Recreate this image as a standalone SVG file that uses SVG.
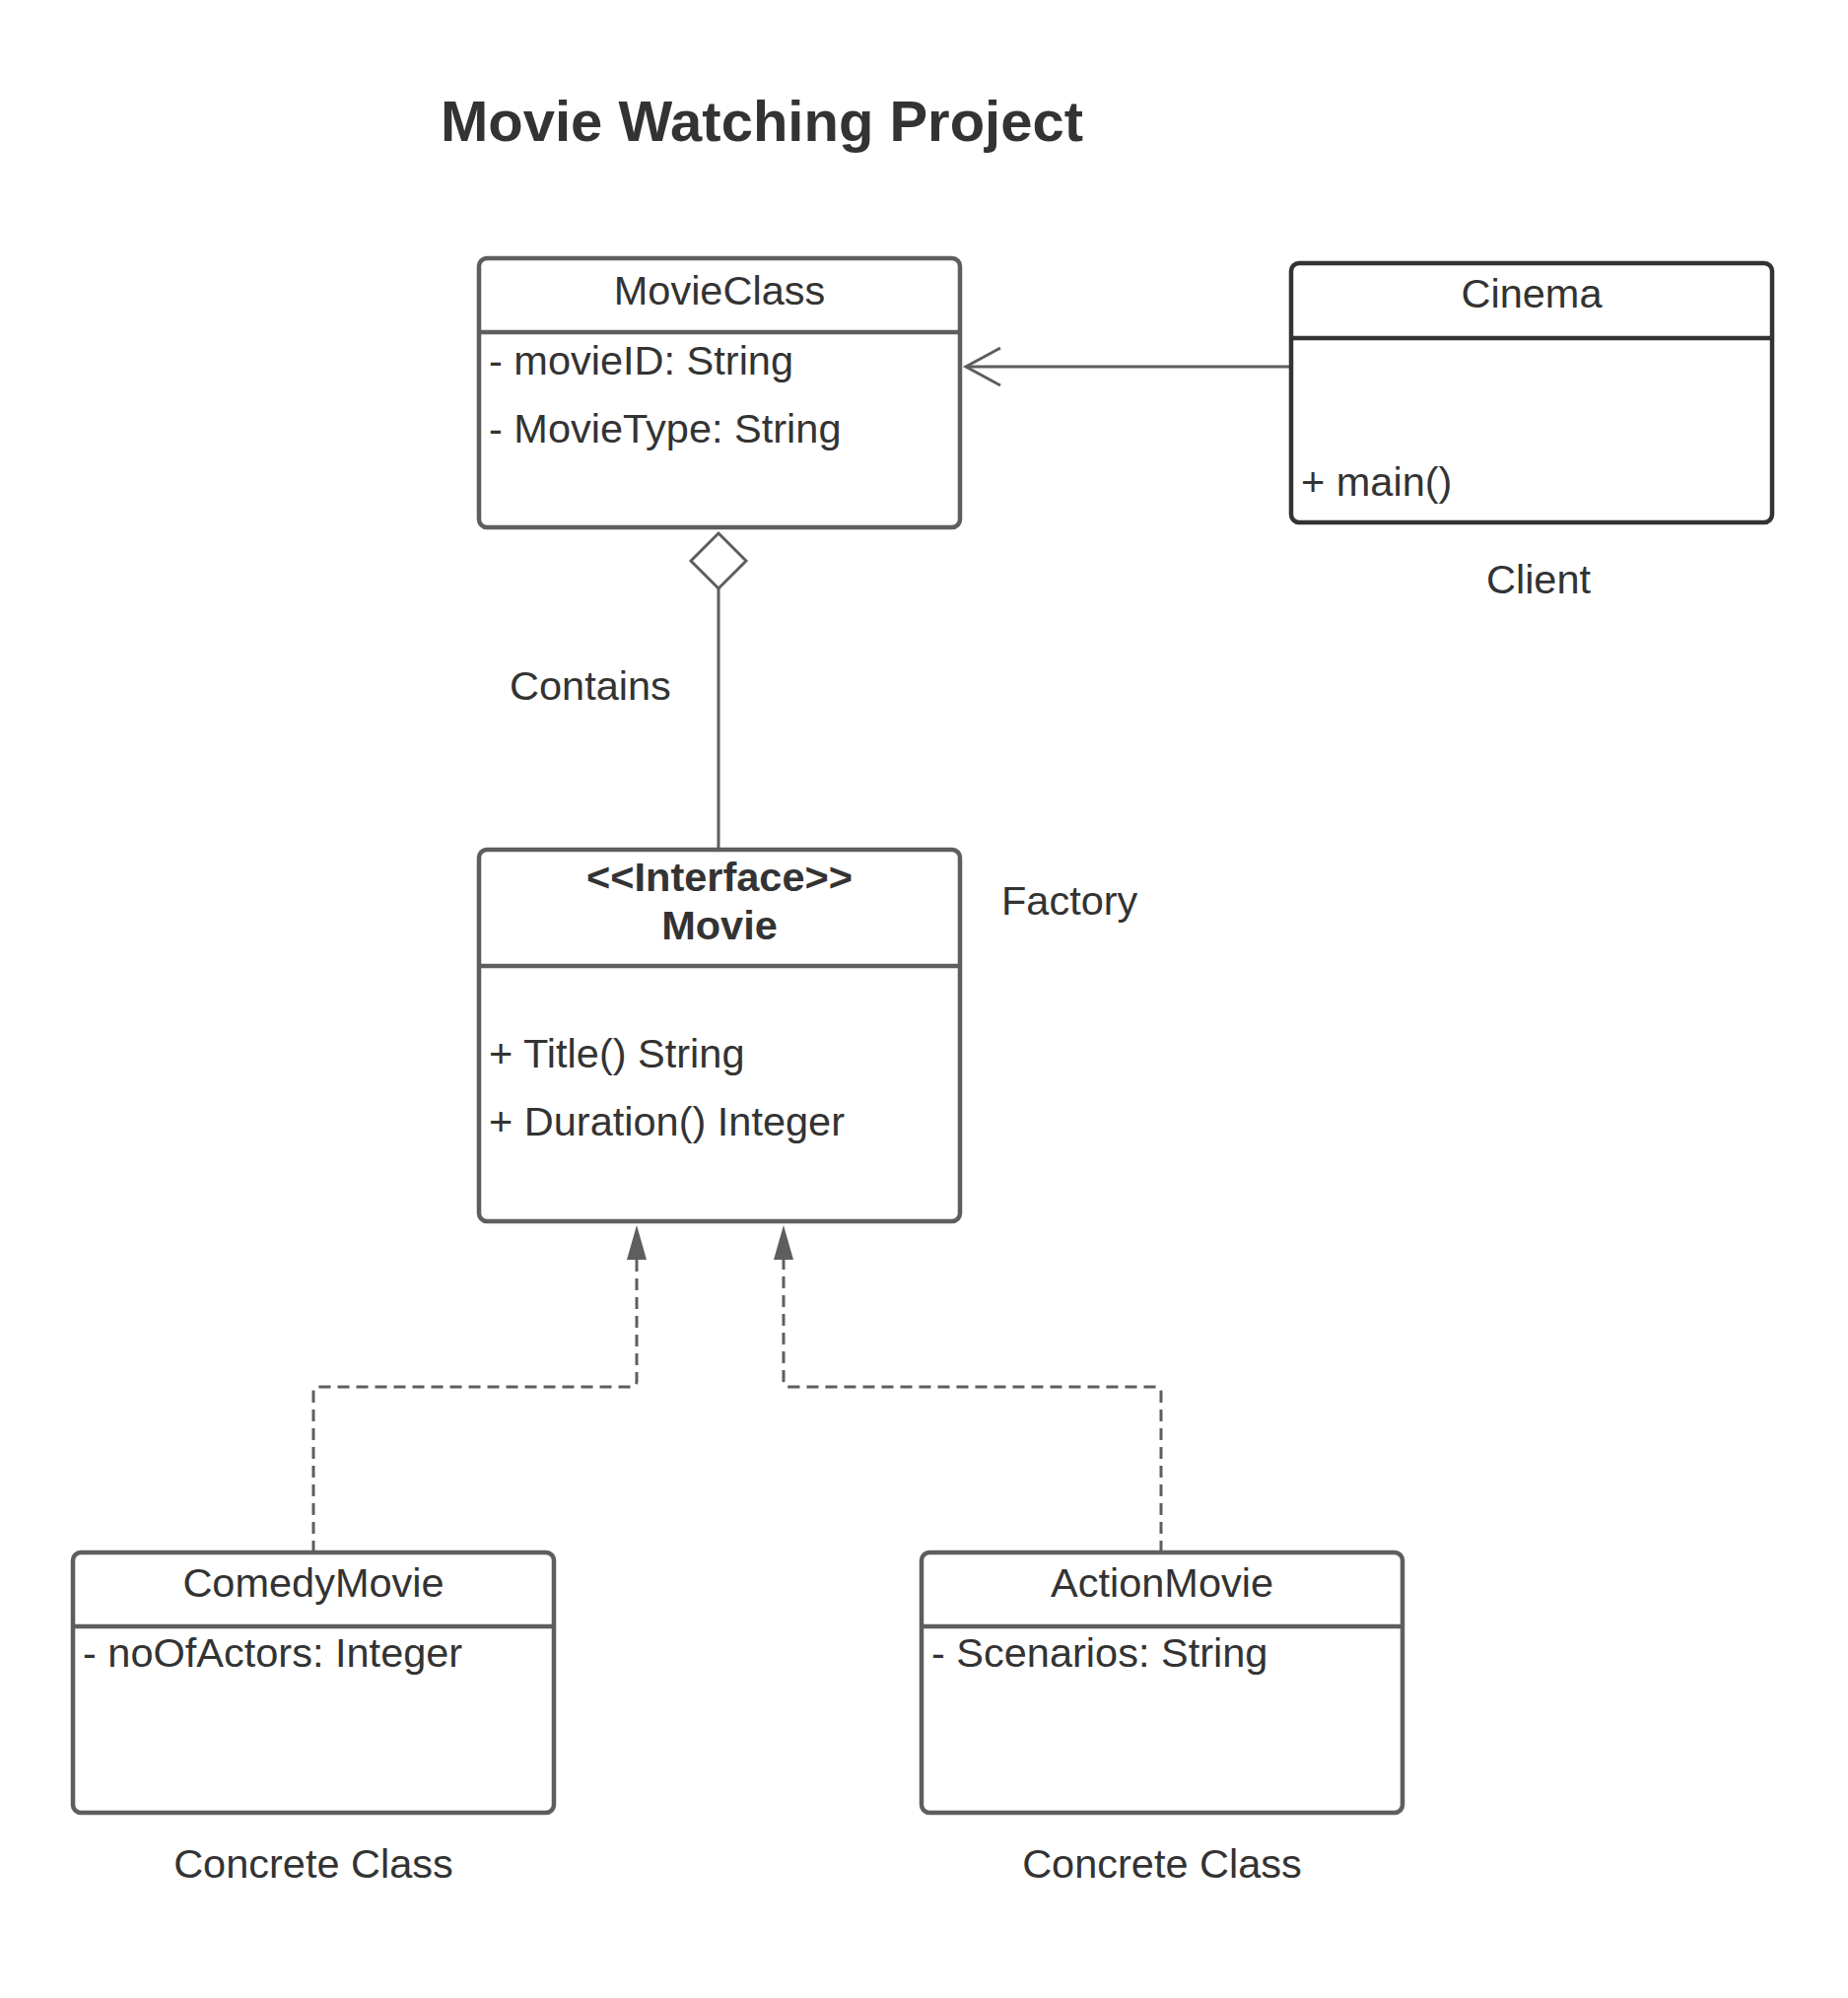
<svg xmlns="http://www.w3.org/2000/svg" width="1875" height="2027" viewBox="0 0 1875 2027">
<style>
text{font-family:"Liberation Sans",Arial,sans-serif;fill:#333333;font-size:41.5px}
.title{font-size:58px;font-weight:bold}
.c{text-anchor:middle}
.b{font-weight:bold}
.box{fill:#ffffff;stroke:#5e5e5e;stroke-width:4.5}
.dark{stroke:#333333}
.div{stroke:#5e5e5e;stroke-width:4.5}
.divd{stroke:#333333;stroke-width:4.5}
.conn{fill:none;stroke:#5e5e5e;stroke-width:3}
.dash{stroke-dasharray:12 7}
.head{fill:#5e5e5e}
</style>
<rect width="1875" height="2027" fill="#ffffff"/>
<text class="title" x="447" y="143">Movie Watching Project</text>

<g id="connectors">
<line class="conn" x1="1310" y1="372" x2="980" y2="372"/>
<polyline class="conn" points="1015,353 980,372 1015,391"/>
<line class="conn" x1="729" y1="597" x2="729" y2="861"/>
<polygon points="729,541 757,569 729,597 701,569" fill="#ffffff" stroke="#5e5e5e" stroke-width="3"/>
<path class="conn dash" d="M318,1575 L318,1413 Q318,1407 324,1407 L640,1407 Q646,1407 646,1401 L646,1276"/>
<polygon class="head" points="646,1243 656,1278 636,1278"/>
<path class="conn dash" d="M1178,1575 L1178,1413 Q1178,1407 1172,1407 L801,1407 Q795,1407 795,1401 L795,1276"/>
<polygon class="head" points="795,1243 805,1278 785,1278"/>
</g>

<g id="MovieClass">
<rect class="box" x="486" y="262" width="488" height="273" rx="8"/>
<line class="div" x1="486" y1="337" x2="974" y2="337"/>
<text class="c" x="730" y="309">MovieClass</text>
<text x="496" y="380">- movieID: String</text>
<text x="496" y="449">- MovieType: String</text>
</g>

<g id="Cinema">
<rect class="box dark" x="1310" y="267" width="488" height="263" rx="8"/>
<line class="divd" x1="1310" y1="343" x2="1798" y2="343"/>
<text class="c" x="1554" y="312">Cinema</text>
<text x="1320" y="503">+ main()</text>
</g>
<text id="lbl-client" class="c" x="1561" y="602">Client</text>

<text id="lbl-contains" x="517" y="710">Contains</text>

<g id="Movie">
<rect class="box" x="486" y="862" width="488" height="377" rx="8"/>
<line class="div" x1="486" y1="980" x2="974" y2="980"/>
<text class="c b" x="730" y="904">&lt;&lt;Interface&gt;&gt;</text>
<text class="c b" x="730" y="953">Movie</text>
<text x="496" y="1083">+ Title() String</text>
<text x="496" y="1152">+ Duration() Integer</text>
</g>
<text id="lbl-factory" x="1016" y="928">Factory</text>

<g id="ComedyMovie">
<rect class="box" x="74" y="1575" width="488" height="264" rx="8"/>
<line class="div" x1="74" y1="1650" x2="562" y2="1650"/>
<text class="c" x="318" y="1620">ComedyMovie</text>
<text x="84" y="1691">- noOfActors: Integer</text>
</g>
<text id="lbl-concrete1" class="c" x="318" y="1905">Concrete Class</text>

<g id="ActionMovie">
<rect class="box" x="935" y="1575" width="488" height="264" rx="8"/>
<line class="div" x1="935" y1="1650" x2="1423" y2="1650"/>
<text class="c" x="1179" y="1620">ActionMovie</text>
<text x="945" y="1691">- Scenarios: String</text>
</g>
<text id="lbl-concrete2" class="c" x="1179" y="1905">Concrete Class</text>
</svg>
